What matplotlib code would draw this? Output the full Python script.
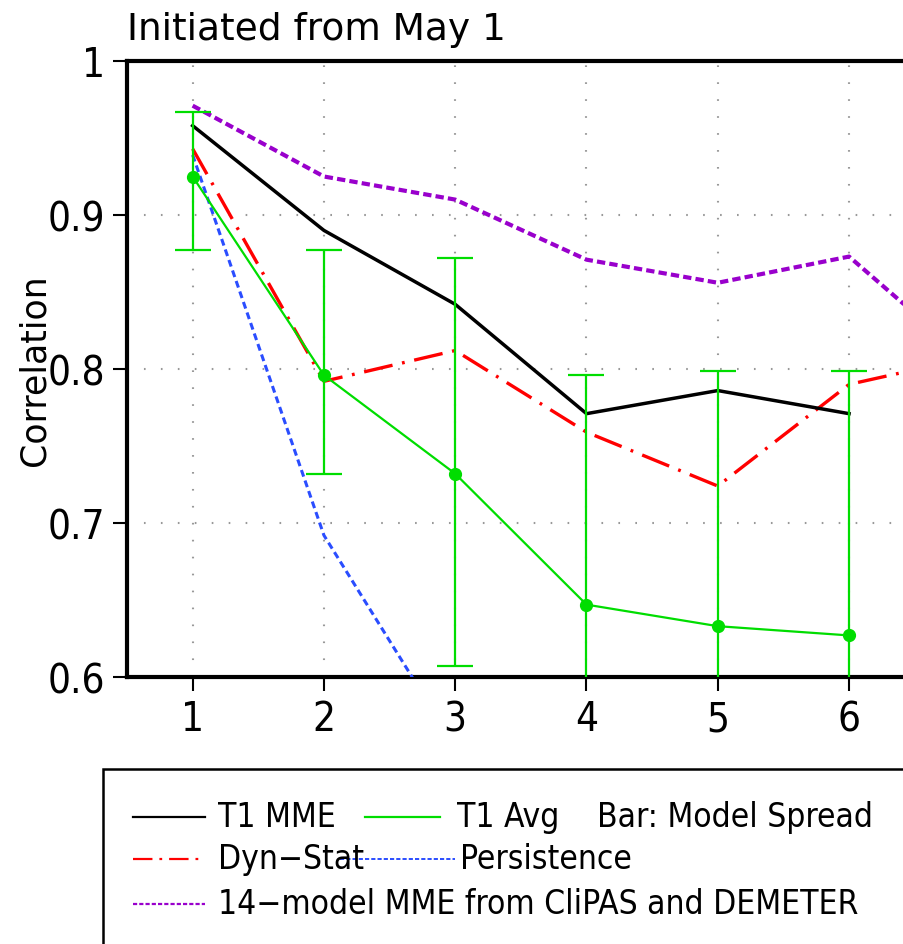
import numpy as np
import matplotlib
matplotlib.use("Agg")
import matplotlib.pyplot as plt
from matplotlib.lines import Line2D
from matplotlib.patches import Rectangle

plt.rcParams['font.family'] = ['DejaVu Sans']
plt.rcParams['font.stretch'] = 'condensed'
plt.rcParams['lines.scale_dashes'] = False

# lead month
lead = [1, 2, 3, 4, 5, 6]
lead7 = [1, 2, 3, 4, 5, 6, 7]

t1_mme = [0.958, 0.890, 0.842, 0.771, 0.786, 0.771]
t1_avg = [0.925, 0.796, 0.732, 0.647, 0.633, 0.627]
spread_hi = [0.967, 0.877, 0.872, 0.796, 0.799, 0.799]
spread_lo = [0.877, 0.732, 0.607, 0.55, 0.55, 0.55]
dyn_stat = [0.943, 0.792, 0.812, 0.759, 0.724, 0.790, 0.809]
persist = [0.939, 0.692, 0.555, 0.50, 0.45, 0.42, 0.40]
mme14 = [0.971, 0.925, 0.910, 0.871, 0.856, 0.873, 0.799]

W, H = 904, 945
fig = plt.figure(figsize=(W / 100, H / 100), dpi=100)
ax = fig.add_axes([127 / W, 1 - 678 / H, (1046 - 127) / W, (678 - 62) / H])

green = '#00dd00'
red_ls = (0, (21, 7, 2, 7))
blue_ls = (0, (5, 3))
purp_ls = (0, (6, 3))

ax.plot(lead7, mme14, color='#9900cc', lw=3, ls=purp_ls, zorder=3)
ax.plot(lead7, persist, color='#2a4dff', lw=2.2, ls=blue_ls, zorder=3)
ax.plot(lead7, dyn_stat, color='#ff0000', lw=2.4, ls=red_ls, zorder=4)
ax.plot(lead, t1_mme, color='black', lw=2.5, zorder=5)
yerr = [np.array(t1_avg) - np.array(spread_lo), np.array(spread_hi) - np.array(t1_avg)]
ax.errorbar(lead, t1_avg, yerr=yerr, color=green, lw=1.6, marker='o', ms=8.5,
            capsize=13, capthick=1.6, elinewidth=1.6, zorder=6)

ax.set_xlim(0.5, 7.5)
ax.set_ylim(0.6, 1.0)
ax.set_xticks(lead)
ax.set_yticks([0.6, 0.7, 0.8, 0.9, 1.0])
ax.set_yticklabels(['0.6', '0.7', '0.8', '0.9', '1'])
ax.tick_params(labelsize=29, width=1.5, length=10, direction='out', pad=6)
ax.grid(True, color='#999999', ls=(0, (1.2, 11)), lw=1.5)
for s in ax.spines.values():
    s.set_linewidth(3)
ax.set_ylabel('Correlation', fontsize=25, fontstretch='normal', labelpad=-3)
ax.set_title('Initiated from May 1', fontsize=27, fontstretch='normal', loc='left', pad=16)

# legend box
fig.add_artist(Rectangle((103 / W, -0.1), 1.0, (945 - 770) / H + 0.1,
                         transform=fig.transFigure, fill=False, lw=1.8, color='black'))


def legline(x0, x1, y, **kw):
    fig.add_artist(Line2D([x0 / W, x1 / W], [1 - y / H, 1 - y / H], transform=fig.transFigure, **kw))


def legtext(x, y, s):
    fig.text(x / W, 1 - y / H, s, fontsize=24, va='center', ha='left')


legline(133, 205, 818, color='black', lw=1.6)
legtext(218, 818, 'T1 MME')
legline(365, 440, 818, color=green, lw=1.6)
legtext(457, 818, 'T1 Avg')
legtext(597, 818, 'Bar: Model Spread')
legline(133, 205, 860, color='#ff0000', lw=1.6, ls=(0, (14, 5, 2, 5)))
legtext(218, 860, 'Dyn\u2212Stat')
legline(340, 455, 860, color='#2a4dff', lw=1.4, ls=(0, (3, 1.5)))
legtext(460, 860, 'Persistence')
legline(133, 205, 905, color='#9900cc', lw=1.6, ls=(0, (3, 1.5)))
legtext(218, 905, '14\u2212model MME from CliPAS and DEMETER')

fig.savefig('out.png', dpi=100)
